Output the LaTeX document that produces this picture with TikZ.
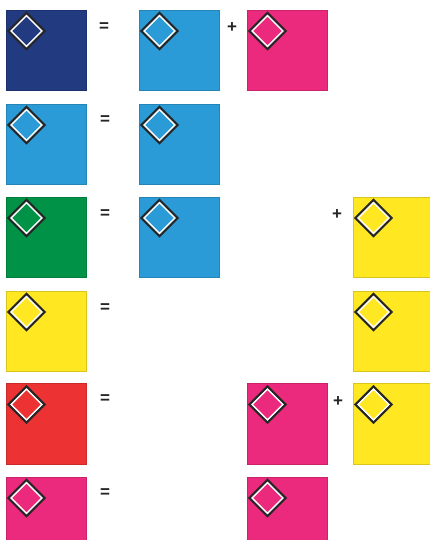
\documentclass[tikz,border=0pt]{standalone}
\usepackage{fontspec}
\setmainfont{Liberation Sans}
\definecolor{navy}{RGB}{33,58,128}
\definecolor{cyanb}{RGB}{42,155,214}
\definecolor{magen}{RGB}{236,42,125}
\definecolor{grn}{RGB}{0,146,70}
\definecolor{yel}{RGB}{255,232,34}
\definecolor{redd}{RGB}{236,50,50}
\begin{document}
\begin{tikzpicture}[x=1pt,y=-1pt,
  sq/.style={draw=#1!85!black, fill=#1, line width=0.5pt, minimum width=80pt, minimum height=80.5pt, anchor=north west, inner sep=0pt, outer sep=0pt},
  op/.style={font=\fontsize{17}{17}\selectfont\bfseries, text=black!85, inner sep=0pt},
  gem/.pic={
    \draw[black!85, line width=2.2pt, line join=miter] (0,-18)--(18,0)--(0,18)--(-18,0)--cycle;
    \draw[white, line width=1.4pt] (0,-15.4)--(15.4,0)--(0,15.4)--(-15.4,0)--cycle;
  }]
\clip (0,0) rectangle (430,540);
\fill[white] (0,0) rectangle (430,540);
% row 1
\node[sq=navy]  (a1) at (6,10) {};
\node[sq=cyanb] (b1) at (139,10) {};
\node[sq=magen] (c1) at (247,10) {};
\node[op] (eq1) at (104,27) {=};
\node[op] (pl1) at (232,28) {+};
% row 2
\node[sq=cyanb] (a2) at (6,104) {};
\node[sq=cyanb] (b2) at (139,104) {};
\node[op] (eq2) at (105,120) {=};
% row 3
\node[sq=grn]   (a3) at (6,197) {};
\node[sq=cyanb] (b3) at (139,197) {};
\node[sq=yel]   (d3) at (353,197) {};
\node[op] (eq3) at (105,214) {=};
\node[op] (pl3) at (337,215) {+};
% row 4
\node[sq=yel] (a4) at (6,291) {};
\node[sq=yel] (d4) at (353,291) {};
\node[op] (eq4) at (105,308) {=};
% row 5
\node[sq=redd]  (a5) at (6,383.5) {};
\node[sq=magen] (c5) at (247,383.5) {};
\node[sq=yel]   (d5) at (353,383.5) {};
\node[op] (eq5) at (105,399) {=};
\node[op] (pl5) at (338,402) {+};
% row 6
\node[sq=magen] (a6) at (6,477) {};
\node[sq=magen] (c6) at (247,477) {};
\node[op] (eq6) at (105,493) {=};
% diamonds
\foreach \n in {a1,b1,c1,a2,b2,a3,b3,d3,a4,d4,a5,c5,d5,a6,c6}
  \pic at ([shift={(20.5,21)}]\n.north west) {gem};
\end{tikzpicture}
\end{document}
